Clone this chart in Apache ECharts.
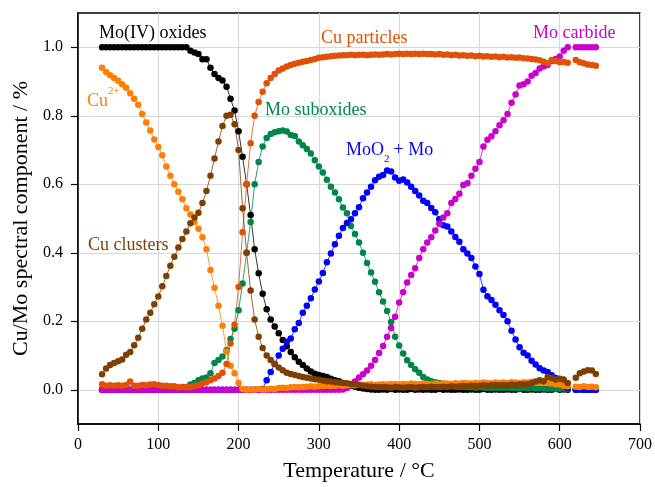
<!DOCTYPE html>
<html>
<head>
<meta charset="utf-8">
<script src="https://cdn.jsdelivr.net/npm/echarts@6/dist/echarts.min.js"></script>
<style>
  html, body { margin: 0; padding: 0; background: #fff; }
  #chart { width: 655px; height: 487px; }
</style>
</head>
<body>
<div id="chart"></div>
<script>
// temperature (°C) of every sample
const temps = [
  30, 35, 40, 45, 50, 55, 60, 65, 70, 75,
  80, 85, 90, 95, 100, 105, 110, 115, 120, 125,
  130, 135, 140, 145, 150, 155, 160, 165, 170, 175,
  180, 185, 190, 195, 200, 205, 210, 215, 220, 225,
  230, 235, 240, 245, 250, 255, 260, 265, 270, 275,
  280, 285, 290, 295, 300, 305, 310, 315, 320, 325,
  330, 335, 340, 345, 350, 355, 360, 365, 370, 375,
  380, 385, 390, 395, 400, 405, 410, 415, 420, 425,
  430, 435, 440, 445, 450, 455, 460, 465, 470, 475,
  480, 485, 490, 495, 500, 505, 510, 515, 520, 525,
  530, 535, 540, 545, 550, 555, 560, 565, 570, 575,
  580, 585, 590, 595, 600, 605, 610, 615, 620, 625,
  630, 635, 640, 645
];

const moIVOxides = [
  1, 1, 1, 1, 1, 1, 1, 1, 1, 1,
  1, 1, 1, 1, 1, 1, 1, 1, 1, 1,
  1, 1, 0.99, 0.985, 0.98, 0.965, 0.965, 0.94, 0.922, 0.91,
  0.903, 0.885, 0.85, 0.815, 0.755, 0.68, 0.6, 0.51, 0.41, 0.34,
  0.28, 0.235, 0.205, 0.185, 0.165, 0.145, 0.127, 0.11, 0.095, 0.082,
  0.072, 0.062, 0.053, 0.047, 0.043, 0.04, 0.037, 0.032, 0.028, 0.025,
  0.02, 0.016, 0.012, 0.009, 0.006, 0.004, 0.002, 0.001, 0, 0,
  0.001, 0, 0.002, 0, 0.001, 0, 0, 0.002, 0, 0.001,
  0, 0.001, 0, 0, 0.002, 0, 0.001, 0, 0, 0.001,
  0, 0, 0.001, 0, 0, 0.002, 0, 0, 0.001, 0,
  0, 0.001, 0, 0, 0.002, 0, 0, 0.001, 0, 0,
  0.001, 0, 0, 0.002, 0, 0.001, 0, null, 0, 0.001,
  0, 0, 0.001, 0
];

const moSuboxides = [
  0, 0, 0, 0, 0, 0, 0, 0, 0, 0,
  0, 0, 0, 0, 0, 0, 0, 0, 0, 0,
  0.002, 0.008, 0.015, 0.02, 0.028, 0.033, 0.036, 0.048, 0.078, 0.087,
  0.097, 0.115, 0.148, 0.178, 0.232, 0.31, 0.4, 0.49, 0.6, 0.665,
  0.71, 0.735, 0.747, 0.752, 0.755, 0.757, 0.754, 0.744, 0.741, 0.725,
  0.714, 0.703, 0.69, 0.67, 0.652, 0.634, 0.613, 0.593, 0.576, 0.556,
  0.532, 0.515, 0.478, 0.455, 0.43, 0.4, 0.37, 0.342, 0.315, 0.285,
  0.258, 0.23, 0.198, 0.155, 0.129, 0.106, 0.086, 0.072, 0.06, 0.05,
  0.037, 0.03, 0.025, 0.022, 0.02, 0.015, 0.012, 0.01, 0.009, 0.008,
  0.008, 0.007, 0.007, 0.006, 0.007, 0.006, 0.006, 0.005, 0.006, 0.005,
  0.005, 0.006, 0.005, 0.005, 0.004, 0.005, 0.004, 0.005, 0.004, 0.004,
  0.004, 0.003, 0.004, 0.003, 0.003, 0.004, 0.003, null, 0.002, 0.003,
  0.002, 0.003, 0.002, 0.002
];

const moO2Mo = [
  0, 0, 0, 0, 0, 0, 0, 0, 0, 0,
  0, 0, 0, 0, 0, 0, 0, 0, 0, 0,
  0, 0, 0, 0, 0, 0, 0, 0, 0, 0,
  0, 0, 0, 0, 0, 0, 0, 0, 0, 0,
  0.002, 0.028, 0.052, 0.075, 0.1, 0.12, 0.14, 0.15, 0.177, 0.195,
  0.225, 0.245, 0.267, 0.293, 0.316, 0.341, 0.372, 0.398, 0.425, 0.45,
  0.472, 0.487, 0.498, 0.515, 0.533, 0.559, 0.576, 0.593, 0.612, 0.622,
  0.627, 0.64, 0.637, 0.62, 0.61, 0.614, 0.605, 0.593, 0.58, 0.567,
  0.552, 0.545, 0.531, 0.518, 0.498, 0.48, 0.477, 0.462, 0.446, 0.432,
  0.41, 0.398, 0.385, 0.36, 0.338, 0.292, 0.273, 0.262, 0.248, 0.232,
  0.218, 0.2, 0.172, 0.147, 0.124, 0.108, 0.1, 0.085, 0.074, 0.063,
  0.056, 0.052, 0.042, 0.034, 0.027, 0.015, 0.005, null, 0, 0.001,
  0, 0.001, 0, 0
];

const moCarbide = [
  0, 0, 0, 0, 0, 0, 0, 0, 0, 0,
  0, 0, 0, 0, 0, 0, 0, 0, 0, 0,
  0, 0, 0, 0, 0, 0, 0, 0, 0, 0,
  0, 0, 0, 0, 0, 0, 0, 0, 0, 0,
  0, 0, 0, 0, 0, 0, 0, 0, 0, 0,
  0, 0, 0, 0, 0, 0, 0, 0, 0, 0,
  0.001, 0.005, 0.014, 0.024, 0.036, 0.045, 0.056, 0.07, 0.087, 0.107,
  0.128, 0.155, 0.18, 0.213, 0.255, 0.285, 0.313, 0.335, 0.355, 0.385,
  0.41, 0.43, 0.445, 0.465, 0.485, 0.503, 0.515, 0.545, 0.557, 0.572,
  0.598, 0.603, 0.625, 0.645, 0.665, 0.71, 0.73, 0.74, 0.755, 0.772,
  0.787, 0.805, 0.838, 0.862, 0.888, 0.892, 0.9, 0.917, 0.925, 0.938,
  0.944, 0.948, 0.96, 0.966, 0.973, 0.99, 1, null, 1, 1,
  1, 1, 1, 1
];

const cu2plus = [
  0.94, 0.928, 0.918, 0.91, 0.902, 0.892, 0.882, 0.866, 0.85, 0.832,
  0.805, 0.78, 0.757, 0.731, 0.709, 0.685, 0.652, 0.625, 0.6, 0.578,
  0.556, 0.53, 0.512, 0.49, 0.47, 0.445, 0.41, 0.35, 0.298, 0.245,
  0.187, 0.112, 0.07, 0.048, 0.02, 0.002, 0, 0.001, 0, 0.002,
  0.001, 0.002, 0.003, 0.002, 0.005, 0.006, 0.005, 0.007, 0.008, 0.007,
  0.008, 0.009, 0.01, 0.009, 0.01, 0.011, 0.012, 0.011, 0.012, 0.013,
  0.012, 0.013, 0.014, 0.013, 0.015, 0.014, 0.015, 0.016, 0.014, 0.015,
  0.016, 0.015, 0.017, 0.016, 0.015, 0.017, 0.016, 0.018, 0.017, 0.016,
  0.018, 0.017, 0.016, 0.018, 0.017, 0.019, 0.018, 0.017, 0.019, 0.018,
  0.02, 0.019, 0.018, 0.02, 0.019, 0.021, 0.02, 0.019, 0.021, 0.02,
  0.021, 0.02, 0.022, 0.021, 0.02, 0.022, 0.021, 0.023, 0.022, 0.021,
  0.022, 0.02, 0.018, 0.016, 0.015, 0.012, 0.01, null, 0.009, 0.008,
  0.01, 0.008, 0.009, 0.007
];

const cuParticles = [
  0.016, 0.012, 0.013, 0.012, 0.013, 0.012, 0.014, 0.024, 0.012, 0.012,
  0.014, 0.013, 0.015, 0.016, 0.014, 0.012, 0.012, 0.01, 0.01, 0.007,
  0.008, 0.007, 0.007, 0.01, 0.013, 0.018, 0.022, 0.028, 0.033, 0.04,
  0.05, 0.075, 0.135, 0.19, 0.3, 0.46, 0.6, 0.72, 0.8, 0.84,
  0.87, 0.895, 0.91, 0.922, 0.932, 0.938, 0.944, 0.948, 0.952, 0.955,
  0.958, 0.96, 0.963, 0.966, 0.969, 0.971, 0.972, 0.974, 0.975, 0.976,
  0.977, 0.977, 0.978, 0.977, 0.978, 0.978, 0.977, 0.978, 0.979, 0.978,
  0.979, 0.98, 0.979, 0.98, 0.981, 0.98, 0.981, 0.98, 0.981, 0.98,
  0.981, 0.98, 0.98, 0.979, 0.98, 0.978, 0.979, 0.977, 0.978, 0.976,
  0.977, 0.975, 0.976, 0.974, 0.975, 0.973, 0.974, 0.972, 0.973, 0.971,
  0.972, 0.97, 0.971, 0.969, 0.97, 0.968, 0.967, 0.966, 0.964, 0.962,
  0.958, 0.953, 0.963, 0.96, 0.956, 0.957, 0.955, null, 0.963, 0.956,
  0.953, 0.95, 0.948, 0.946
];

const cuClusters = [
  0.045, 0.062, 0.072, 0.078, 0.083, 0.088, 0.102, 0.11, 0.13, 0.152,
  0.178, 0.205, 0.225, 0.25, 0.272, 0.302, 0.332, 0.362, 0.388, 0.415,
  0.44, 0.462, 0.486, 0.503, 0.517, 0.545, 0.58, 0.625, 0.675, 0.725,
  0.77, 0.8, 0.803, 0.775, 0.7, 0.53, 0.4, 0.29, 0.205, 0.155,
  0.122, 0.1, 0.087, 0.075, 0.065, 0.057, 0.05, 0.046, 0.043, 0.04,
  0.037, 0.035, 0.033, 0.031, 0.029, 0.027, 0.025, 0.024, 0.022, 0.021,
  0.02, 0.019, 0.017, 0.016, 0.014, 0.012, 0.01, 0.009, 0.008, 0.007,
  0.008, 0.007, 0.006, 0.008, 0.007, 0.006, 0.007, 0.008, 0.006, 0.007,
  0.008, 0.007, 0.009, 0.008, 0.007, 0.009, 0.008, 0.01, 0.009, 0.01,
  0.011, 0.01, 0.012, 0.011, 0.012, 0.013, 0.012, 0.013, 0.014, 0.013,
  0.014, 0.013, 0.015, 0.014, 0.016, 0.015, 0.017, 0.019, 0.024, 0.028,
  0.025, 0.037, 0.034, 0.03, 0.032, 0.03, 0.02, null, 0.035, 0.048,
  0.053, 0.057, 0.056, 0.046
];

const yTicks = [0, 0.2, 0.4, 0.6, 0.8, 1.0];

const font = '"Liberation Serif", "Times New Roman", serif';

const seriesList = [
  { name: 'Mo(IV) oxides', values: moIVOxides, color: '#000000' },
  { name: 'Mo suboxides', values: moSuboxides, color: '#00854a' },
  { name: 'MoO2 + Mo', values: moO2Mo, color: '#0000ff' },
  { name: 'Mo carbide', values: moCarbide, color: '#cc00cc' },
  { name: 'Cu2+', values: cu2plus, color: '#ff8000' },
  { name: 'Cu particles', values: cuParticles, color: '#e05006' },
  { name: 'Cu clusters', values: cuClusters, color: '#7f3f00' },
];

function label(text, x, y, color, size) {
  return {
    type: 'text',
    x: x,
    y: y,
    z: 100,
    style: {
      text: text,
      fill: color,
      font: (size || 18) + 'px ' + font,
      align: 'left',
      verticalAlign: 'middle',
    },
  };
}

const chart = echarts.init(document.getElementById('chart'));

const option = {
  animation: false,
  backgroundColor: '#fff',
  grid: {
    left: 78,
    right: 15,
    top: 13,
    bottom: 60,
    show: true,
    borderColor: '#000',
    borderWidth: 1.5,
  },
  xAxis: {
    type: 'value',
    min: 0,
    max: 700,
    interval: 100,
    name: 'Temperature / °C',
    nameLocation: 'middle',
    nameGap: 36,
    nameTextStyle: { fontFamily: font, fontSize: 22, color: '#000' },
    axisLine: { show: true, onZero: false, lineStyle: { color: '#000', width: 1.5 } },
    axisTick: { show: true, length: 7, lineStyle: { color: '#000', width: 1.2 } },
    axisLabel: { fontFamily: font, fontSize: 16, color: '#000', margin: 13 },
    splitLine: { show: true, lineStyle: { color: '#d8d8d8', width: 1 } },
  },
  yAxis: {
    type: 'value',
    min: -0.1,
    max: 1.1,
    name: 'Cu/Mo spectral component / %',
    nameLocation: 'middle',
    nameGap: 45,
    nameTextStyle: { fontFamily: font, fontSize: 22, color: '#000' },
    axisLine: { show: true, onZero: false, lineStyle: { color: '#000', width: 1.5 } },
    axisTick: { show: true, length: 7, customValues: yTicks, lineStyle: { color: '#000', width: 1.2 } },
    axisLabel: {
      fontFamily: font,
      fontSize: 16,
      color: '#000',
      margin: 15,
      customValues: yTicks,
      formatter: (v) => v.toFixed(1),
    },
    splitLine: { show: true, lineStyle: { color: '#d8d8d8', width: 1 } },
  },
  series: seriesList.map((s) => ({
    name: s.name,
    type: 'line',
    data: temps.map((t, i) => [t, s.values[i]]),
    symbol: 'circle',
    symbolSize: 6.5,
    showAllSymbol: true,
    connectNulls: false,
    lineStyle: { color: s.color, width: 0.8 },
    itemStyle: { color: s.color },
  })),
  graphic: [
    label('Mo(IV) oxides', 99, 33, '#000000'),
    label('Cu particles', 321, 38, '#e05006'),
    label('Mo carbide', 533, 33, '#cc00cc'),
    label('Cu', 87, 101, '#ff8000'),
    label('2+', 108, 91, '#ff8000', 11),
    label('Mo suboxides', 265, 110, '#00854a'),
    label('MoO', 346, 150, '#0000ff'),
    label('2', 384, 159, '#0000ff', 11),
    label(' + Mo', 389, 150, '#0000ff'),
    label('Cu clusters', 88, 245, '#7f3f00'),
  ],
};

chart.setOption(option);
</script>
</body>
</html>
